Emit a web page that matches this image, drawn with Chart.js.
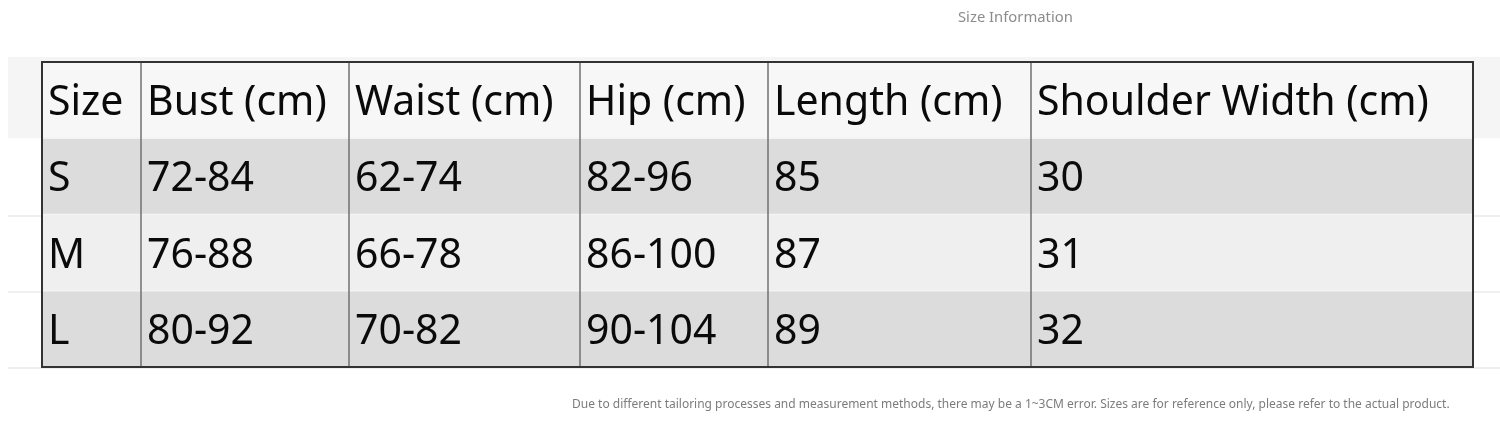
<!DOCTYPE html>
<html>
<head>
<meta charset="utf-8">
<script src="https://cdn.jsdelivr.net/npm/chart.js@4"></script>
<style>
    body { margin: 0; background: #fff; }
    #wrap { width: 1500px; height: 425px; }
</style>
</head>
<body>
<div id="wrap"><canvas id="sizeChart" width="1500" height="425"></canvas></div>
<script>
// table content
const title = 'Size Information';
const note = 'Due to different tailoring processes and measurement methods, there may be a 1~3CM error. Sizes are for reference only, please refer to the actual product.';
const headers = ['Size', 'Bust (cm)', 'Waist (cm)', 'Hip (cm)', 'Length (cm)', 'Shoulder Width (cm)'];
const sizes = ['S', 'M', 'L'];
const bust = [[72, 84], [76, 88], [80, 92]];
const waist = [[62, 74], [66, 78], [70, 82]];
const hip = [[82, 96], [86, 100], [90, 104]];
const lengths = [85, 87, 89];
const shoulder = [30, 31, 32];

// layout / style
const colWidths = [99, 208, 231, 188, 263, 442];
const rowColors = ['#f7f7f7', '#dcdcdc', '#efefef', '#dcdcdc'];
const cellFont = '41px "Noto Sans"';

document.addEventListener('DOMContentLoaded', () => {
    const ctx = document.getElementById('sizeChart').getContext('2d');

    const range = r => `${r[0]}-${r[1]}`;
    const rows = [headers].concat(sizes.map((s, i) => [
        s, range(bust[i]), range(waist[i]), range(hip[i]), String(lengths[i]), String(shoulder[i])
    ]));
    const rowKeys = ['head'].concat(sizes);

    const edges = [0];
    colWidths.forEach(w => edges.push(edges[edges.length - 1] + w));

    const datasets = headers.map((h, c) => ({
        label: h,
        data: rows.map(() => [edges[c], edges[c + 1]]),
        backgroundColor: rowColors,
        borderWidth: 0,
        barPercentage: 1,
        categoryPercentage: 1,
        grouped: false
    }));

    const backdrop = {
        id: 'backdrop',
        beforeDraw(chart) {
            const c = chart.ctx;
            const area = chart.chartArea;
            const y = chart.scales.y;
            c.save();
            c.fillStyle = '#fff';
            c.fillRect(0, 0, chart.width, chart.height);
            // faint ghost band behind the header
            c.fillStyle = '#f5f5f5';
            c.fillRect(8, area.top - 5, chart.width - 8, y.getPixelForValue(0.5) - area.top + 5);
            c.strokeStyle = '#efefef';
            c.lineWidth = 2;
            [1.5, 2.5, 3.5].forEach(v => {
                const py = Math.round(y.getPixelForValue(v)) + 1;
                c.beginPath();
                c.moveTo(8, py);
                c.lineTo(chart.width, py);
                c.stroke();
            });
            c.restore();
        }
    };

    const tableText = {
        id: 'tableText',
        afterDatasetsDraw(chart) {
            const c = chart.ctx;
            const area = chart.chartArea;
            const x = chart.scales.x;
            const y = chart.scales.y;
            c.save();
            // row separators (light)
            c.strokeStyle = '#f3f3f3';
            c.lineWidth = 1.5;
            for (let r = 1; r < rows.length; r++) {
                const py = y.getPixelForValue(r - 0.5);
                c.beginPath();
                c.moveTo(area.left, py);
                c.lineTo(area.right, py);
                c.stroke();
            }
            // column lines
            c.strokeStyle = '#707070';
            c.lineWidth = 1.5;
            for (let k = 1; k < edges.length - 1; k++) {
                const px = x.getPixelForValue(edges[k]);
                c.beginPath();
                c.moveTo(px, area.top);
                c.lineTo(px, area.bottom);
                c.stroke();
            }
            // outer border
            c.strokeStyle = '#333';
            c.lineWidth = 2;
            c.strokeRect(area.left, area.top, area.right - area.left, area.bottom - area.top);

            // cell text
            c.font = cellFont;
            c.fillStyle = '#0a0a0a';
            c.textAlign = 'left';
            c.textBaseline = 'alphabetic';
            chart.data.datasets.forEach((ds, col) => {
                chart.getDatasetMeta(col).data.forEach((bar, row) => {
                    c.fillText(rows[row][col], bar.base + 6, bar.y + 15);
                });
            });

            // title and footnote
            c.fillStyle = '#8c8c8c';
            c.font = '14.8px "Noto Sans"';
            c.textBaseline = 'middle';
            c.fillText(title, 958, 18);
            c.fillStyle = '#7c7c7c';
            c.font = '12px "Noto Sans"';
            c.fillText(note, 572, 405);
            c.restore();
        }
    };

    new Chart(ctx, {
        type: 'bar',
        data: {
            labels: rowKeys,
            datasets: datasets
        },
        options: {
            indexAxis: 'y',
            responsive: false,
            animation: false,
            layout: {
                padding: { left: 42, right: 27, top: 62, bottom: 58 }
            },
            plugins: {
                legend: { display: false },
                tooltip: { enabled: false }
            },
            scales: {
                x: {
                    type: 'linear',
                    display: false,
                    min: 0,
                    max: edges[edges.length - 1]
                },
                y: {
                    type: 'category',
                    display: false,
                    offset: true
                }
            }
        },
        plugins: [backdrop, tableText]
    });
});
</script>
</body>
</html>
